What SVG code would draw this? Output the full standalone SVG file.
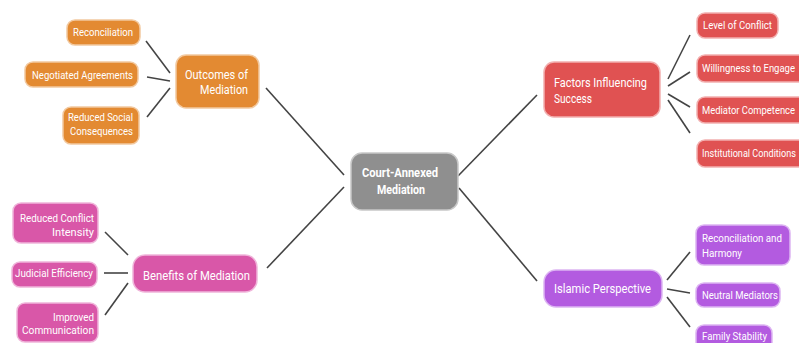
<svg xmlns="http://www.w3.org/2000/svg" width="799" height="343" viewBox="0 0 799 343">
<style>
text{font-family:Roboto,"Liberation Sans",sans-serif;fill:#fff;}
.s{font-size:11.5px;}
.m{font-size:13px;}
.c{font-size:13px;font-weight:bold;}
.or{fill:#E38A32;stroke:#F2C9A0;stroke-width:1.5;}
.re{fill:#E05252;stroke:#F2B0B0;stroke-width:1.5;}
.pk{fill:#D957A8;stroke:#F0B5DA;stroke-width:1.5;}
.pu{fill:#B35BE0;stroke:#DDB5F2;stroke-width:1.5;}
.gr{fill:#8F8F8F;stroke:#C8C8C8;stroke-width:1.5;}
#connectors line{stroke:#444;stroke-width:1.6;}
</style>
<rect width="799" height="343" fill="#fff"/>
<g id="connectors">
<line x1="266" y1="88" x2="344" y2="175"/>
<line x1="267" y1="268" x2="344" y2="187"/>
<line x1="458" y1="176" x2="537" y2="95"/>
<line x1="459" y1="188" x2="537" y2="281"/>
<line x1="146" y1="41" x2="170" y2="73"/>
<line x1="147" y1="77" x2="170" y2="81"/>
<line x1="147" y1="117" x2="170" y2="88"/>
<line x1="105" y1="232" x2="128" y2="255"/>
<line x1="104" y1="273" x2="128" y2="273"/>
<line x1="105" y1="315" x2="128" y2="283"/>
<line x1="668" y1="79" x2="690" y2="35"/>
<line x1="668" y1="86" x2="690" y2="72"/>
<line x1="668" y1="94" x2="690" y2="107"/>
<line x1="668" y1="100" x2="690" y2="133"/>
<line x1="667" y1="280" x2="690" y2="252"/>
<line x1="667" y1="289" x2="690" y2="293"/>
<line x1="667" y1="297" x2="690" y2="327"/>
</g>
<g id="center">
<rect class="gr" x="351" y="153" width="107" height="57" rx="11"/>
<text class="c" x="400" y="177" text-anchor="middle" textLength="76" lengthAdjust="spacingAndGlyphs">Court-Annexed</text>
<text class="c" x="401" y="194" text-anchor="middle" textLength="48" lengthAdjust="spacingAndGlyphs">Mediation</text>
</g>
<g id="outcomes">
<rect class="or" x="176" y="55" width="83" height="53" rx="10"/>
<text class="m" x="248" y="79" text-anchor="end" textLength="63" lengthAdjust="spacingAndGlyphs">Outcomes of</text>
<text class="m" x="248" y="94" text-anchor="end" textLength="48" lengthAdjust="spacingAndGlyphs">Mediation</text>
</g>
<g id="reconciliation">
<rect class="or" x="67" y="20" width="73" height="25" rx="8"/>
<text class="s" x="133" y="36" text-anchor="end" textLength="60" lengthAdjust="spacingAndGlyphs">Reconciliation</text>
</g>
<g id="negotiated">
<rect class="or" x="25" y="62" width="113" height="25" rx="8"/>
<text class="s" x="133" y="79" text-anchor="end" textLength="101" lengthAdjust="spacingAndGlyphs">Negotiated Agreements</text>
</g>
<g id="reduced-social">
<rect class="or" x="63" y="107" width="76" height="37" rx="8"/>
<text class="s" x="133" y="121" text-anchor="end" textLength="65" lengthAdjust="spacingAndGlyphs">Reduced Social</text>
<text class="s" x="133" y="135" text-anchor="end" textLength="63" lengthAdjust="spacingAndGlyphs">Consequences</text>
</g>
<g id="benefits">
<rect class="pk" x="133" y="255" width="124" height="37" rx="12"/>
<text class="m" x="143" y="280" textLength="107" lengthAdjust="spacingAndGlyphs">Benefits of Mediation</text>
</g>
<g id="reduced-conflict">
<rect class="pk" x="13" y="203" width="85" height="40" rx="8"/>
<text class="s" x="94" y="222" text-anchor="end" textLength="74" lengthAdjust="spacingAndGlyphs">Reduced Conflict</text>
<text class="s" x="94" y="236" text-anchor="end" textLength="42" lengthAdjust="spacingAndGlyphs">Intensity</text>
</g>
<g id="judicial">
<rect class="pk" x="12" y="262" width="85" height="25" rx="8"/>
<text class="s" x="93" y="277" text-anchor="end" textLength="78" lengthAdjust="spacingAndGlyphs">Judicial Efficiency</text>
</g>
<g id="improved">
<rect class="pk" x="17" y="303" width="81" height="39" rx="8"/>
<text class="s" x="94" y="321" text-anchor="end" textLength="41" lengthAdjust="spacingAndGlyphs">Improved</text>
<text class="s" x="94" y="334" text-anchor="end" textLength="72" lengthAdjust="spacingAndGlyphs">Communication</text>
</g>
<g id="factors">
<rect class="re" x="544" y="62" width="116" height="55" rx="10"/>
<text class="m" x="554" y="87" textLength="93" lengthAdjust="spacingAndGlyphs">Factors Influencing</text>
<text class="m" x="554" y="103" textLength="38" lengthAdjust="spacingAndGlyphs">Success</text>
</g>
<g id="level">
<rect class="re" x="697" y="13" width="81" height="25" rx="8"/>
<text class="s" x="703" y="29" textLength="69" lengthAdjust="spacingAndGlyphs">Level of Conflict</text>
</g>
<g id="willingness">
<rect class="re" x="697" y="55" width="115" height="27" rx="8"/>
<text class="s" x="702" y="72" textLength="93" lengthAdjust="spacingAndGlyphs">Willingness to Engage</text>
</g>
<g id="mediator">
<rect class="re" x="697" y="97" width="115" height="26" rx="8"/>
<text class="s" x="702" y="114" textLength="93" lengthAdjust="spacingAndGlyphs">Mediator Competence</text>
</g>
<g id="institutional">
<rect class="re" x="697" y="140" width="115" height="27" rx="8"/>
<text class="s" x="702" y="157" textLength="94" lengthAdjust="spacingAndGlyphs">Institutional Conditions</text>
</g>
<g id="islamic">
<rect class="pu" x="544" y="270" width="118" height="37" rx="12"/>
<text class="m" x="554" y="293" textLength="97" lengthAdjust="spacingAndGlyphs">Islamic Perspective</text>
</g>
<g id="reconciliation-harmony">
<rect class="pu" x="696" y="225" width="94" height="40" rx="8"/>
<text class="s" x="702" y="242" textLength="80" lengthAdjust="spacingAndGlyphs">Reconciliation and</text>
<text class="s" x="702" y="257" textLength="40" lengthAdjust="spacingAndGlyphs">Harmony</text>
</g>
<g id="neutral">
<rect class="pu" x="696" y="283" width="84" height="24" rx="8"/>
<text class="s" x="702" y="299" textLength="76" lengthAdjust="spacingAndGlyphs">Neutral Mediators</text>
</g>
<g id="family">
<rect class="pu" x="696" y="325" width="76" height="26" rx="8"/>
<text class="s" x="702" y="340" textLength="65" lengthAdjust="spacingAndGlyphs">Family Stability</text>
</g>
</svg>
